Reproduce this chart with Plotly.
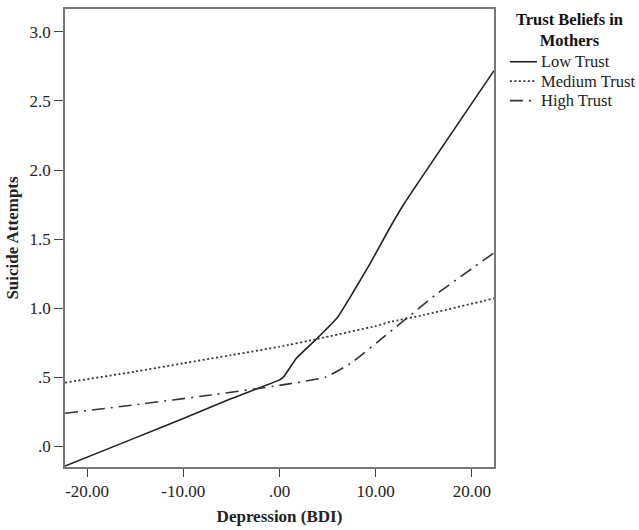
import plotly.graph_objects as go

# Data
low_x = [-22.3, -15, -10, -5, 0, 0.4, 1.8, 3.9, 6.0, 7.7, 9.4, 11.3, 12.9, 22.3]
low_y = [-0.144, 0.06, 0.20, 0.345, 0.48, 0.50, 0.64, 0.78, 0.93, 1.12, 1.32, 1.56, 1.75, 2.72]

med_x = [-22.3, -15, -10, -5, 0, 3.9, 10, 11.5, 15, 22.3]
med_y = [0.46, 0.54, 0.60, 0.66, 0.72, 0.776, 0.87, 0.90, 0.95, 1.07]

high_x = [-22.3, -15, -7.15, 0, 4.8, 7.4, 11.0, 12.5, 16.3, 22.3]
high_y = [0.238, 0.30, 0.37, 0.44, 0.50, 0.60, 0.80, 0.885, 1.10, 1.40]

series_names = ["Low Trust", "Medium Trust", "High Trust"]
legend_title = "Trust Beliefs in<br>Mothers"

x_ticks = [-20, -10, 0, 10, 20]
x_ticklabels = ["-20.00", "-10.00", ".00", "10.00", "20.00"]
y_ticks = [0, 0.5, 1.0, 1.5, 2.0, 2.5, 3.0]
y_ticklabels = [".0", ".5", "1.0", "1.5", "2.0", "2.5", "3.0"]

FONT = "Liberation Serif, Times New Roman, serif"
line_styles = [
    dict(color="#222222", width=1.6, dash="solid"),
    dict(color="#333333", width=1.8, dash="2px,2.5px"),
    dict(color="#333333", width=1.6, dash="13px,6px,2px,6px"),
]

fig = go.Figure()
for xs, ys, name, st in zip([low_x, med_x, high_x], [low_y, med_y, high_y], series_names, line_styles):
    fig.add_trace(go.Scatter(x=xs, y=ys, mode="lines", name=name, showlegend=False,
                             line=dict(color=st["color"], width=st["width"], dash=st["dash"],
                                       shape="spline", smoothing=0.4)))

# Legend drawn at the right, SPSS-style (title centered, compact rows)
leg_sym_x0, leg_sym_x1, leg_text_x = 1.037, 1.100, 1.105
leg_rows_y = [0.8848, 0.8424, 0.800]
for name, st, yy in zip(series_names, line_styles, leg_rows_y):
    fig.add_shape(type="line", xref="paper", yref="paper", x0=leg_sym_x0, x1=leg_sym_x1, y0=yy, y1=yy,
                  line=dict(color=st["color"], width=st["width"], dash=st["dash"]))
    fig.add_annotation(xref="paper", yref="paper", x=leg_text_x, y=yy, text=name, showarrow=False,
                       xanchor="left", yanchor="middle",
                       font=dict(family=FONT, size=16.5, color="#222222"))
fig.add_annotation(xref="paper", yref="paper", x=1.177, y=0.9543, text="<b>" + legend_title + "</b>",
                   showarrow=False, xanchor="center", yanchor="middle", align="center",
                   font=dict(family=FONT, size=16.5, color="#111111"))

fig.update_layout(
    width=639, height=530,
    margin=dict(l=65, r=145, t=7, b=63),
    paper_bgcolor="white", plot_bgcolor="white",
    font=dict(family=FONT, size=17, color="#222222"),
    showlegend=False,
    xaxis=dict(
        range=[-22.3, 22.3], tickmode="array", tickvals=x_ticks, ticktext=x_ticklabels,
        ticks="outside", ticklen=8, tickcolor="#444444", tickwidth=1.2,
        showgrid=False, zeroline=False, showline=True, linecolor="#777777", linewidth=1.5, mirror=True,
        title=dict(text="<b>Depression (BDI)</b>", font=dict(family=FONT, size=17), standoff=10),
        tickfont=dict(family=FONT, size=17),
    ),
    yaxis=dict(
        range=[-0.151, 3.166], tickmode="array", tickvals=y_ticks, ticktext=y_ticklabels,
        ticks="outside", ticklen=9, tickcolor="#444444", tickwidth=1.2,
        showgrid=False, zeroline=False, showline=True, linecolor="#777777", linewidth=1.5, mirror=True,
        title=dict(text="<b>Suicide Attempts</b>", font=dict(family=FONT, size=17), standoff=7),
        tickfont=dict(family=FONT, size=17),
    ),
)

fig.write_html("out.html", config={"displayModeBar": False},
               post_script="document.body.style.margin='0';document.body.style.padding='0';")
